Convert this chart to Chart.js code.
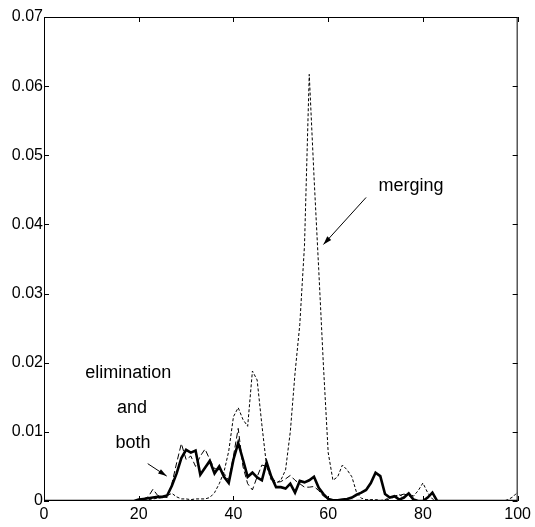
<!DOCTYPE html>
<html>
<head>
<meta charset="utf-8">
<script src="https://cdn.jsdelivr.net/npm/chart.js@4.4.1/dist/chart.umd.min.js"></script>
<style>
  html, body { margin: 0; padding: 0; background: #fff; }
  #wrap { width: 535px; height: 527px; }
</style>
</head>
<body>
<div id="wrap"><canvas id="chart"></canvas></div>
<script>
  // values sampled at x = 0, 1, 2, ... 100
  var bothValues = [
    0, 0, 0, 0, 0, 0, 0, 0, 0, 0,
    0, 0, 0, 0, 0, 0, 0, 0, 0, 0,
    0.0002, 0.0003, 0.0004, 0.0005, 0.0006, 0.0006, 0.0008, 0.0022, 0.0040, 0.0062,
    0.0074, 0.0070, 0.0073, 0.0038, 0.0048, 0.0058, 0.0040, 0.0050, 0.0035, 0.0026,
    0.0060, 0.0084, 0.0060, 0.0035, 0.0041, 0.0034, 0.0030, 0.0056, 0.0035, 0.0020,
    0.0020, 0.0018, 0.0025, 0.0012, 0.0029, 0.0027, 0.0030, 0.0035, 0.0019, 0.0010,
    0.0003, 0.0001, 0.0001, 0.0002, 0.0003, 0.0005, 0.0009, 0.0012, 0.0016, 0.0026,
    0.0041, 0.0036, 0.0010, 0.0005, 0.0007, 0.0002, 0.0005, 0.0011, 0.0002, 0,
    0, 0.0005, 0.0012, 0, 0, 0, 0, 0, 0, 0,
    0, 0, 0, 0, 0, 0, 0, 0, 0, 0,
    0
  ];

  var eliminationValues = [
    0, 0, 0, 0, 0, 0, 0, 0, 0, 0,
    0, 0, 0, 0, 0, 0, 0, 0, 0, 0,
    0.0002, 0.0003, 0.0006, 0.0017, 0.0008, 0.0006, 0.0005, 0.0025, 0.0055, 0.0083,
    0.0060, 0.0065, 0.0050, 0.0065, 0.0075, 0.0060, 0.0047, 0.0045, 0.0040, 0.0030,
    0.0065, 0.0105, 0.0050, 0.0025, 0.0016, 0.0035, 0.0052, 0.0050, 0.0035, 0.0027,
    0.0028, 0.0032, 0.0037, 0.0030, 0.0025, 0.0020, 0.0020, 0.0021, 0.0015, 0.0007,
    0.0003, 0.0002, 0.0001, 0.0001, 0.0001, 0.0001, 0.0001, 0.0001, 0.0001, 0.0001,
    0.0001, 0.0001, 0.0001, 0.0003, 0.0006, 0.0008, 0.0010, 0.0008, 0.0003, 0,
    0, 0, 0, 0, 0, 0, 0, 0, 0, 0,
    0, 0, 0, 0, 0, 0, 0, 0, 0, 0,
    0
  ];

  var mergingValues = [
    0, 0, 0, 0, 0, 0, 0, 0, 0, 0,
    0, 0, 0, 0, 0, 0, 0, 0, 0, 0,
    0, 0, 0.0002, 0.0003, 0.0004, 0.0005, 0.0008, 0.0011, 0.0006, 0.0003,
    0.0003, 0.0002, 0.0003, 0.0003, 0.0003, 0.0005, 0.0012, 0.0025, 0.0042, 0.0072,
    0.0122, 0.0135, 0.0118, 0.0108, 0.0188, 0.0175, 0.0110, 0.0050, 0.0030, 0.0026,
    0.0030, 0.0045, 0.0100, 0.0185, 0.0255, 0.0370, 0.0617, 0.0470, 0.0335, 0.0195,
    0.0070, 0.0030, 0.0035, 0.0052, 0.0045, 0.0035, 0.0012, 0.0004, 0.0002, 0.0002,
    0.0002, 0.0001, 0.0002, 0.0005, 0.0007, 0.0009, 0.0006, 0.0011, 0.0007, 0.0015,
    0.0026, 0.0012, 0.0003, 0, 0, 0, 0, 0, 0, 0,
    0, 0, 0, 0, 0, 0, 0, 0, 0.0002, 0.0006,
    0.0013
  ];

  var xTicks = [0, 20, 40, 60, 80, 100];
  var yTicks = [0, 0.01, 0.02, 0.03, 0.04, 0.05, 0.06, 0.07];

  var xLabels = bothValues.map(function (v, i) { return i; });

  var FONT = '"Liberation Sans", Arial, Helvetica, sans-serif';

  // text labels and arrows, placed in data coordinates
  var notes = [
    { text: 'merging', x: 77.5, y: 0.0455 },
    { text: 'elimination', x: 17.8, y: 0.0185 },
    { text: 'and', x: 18.6, y: 0.0135 },
    { text: 'both', x: 18.8, y: 0.0084 }
  ];
  var arrows = [
    { from: [68, 0.0439], to: [59, 0.0371] },
    { from: [21.9, 0.0054], to: [25.9, 0.0036] }
  ];

  var framePlugin = {
    id: 'frame',
    afterDraw: function (chart) {
      var c = chart.ctx, a = chart.chartArea;
      var xs = chart.scales.x, ys = chart.scales.y;
      var len = 5;
      c.save();
      c.strokeStyle = '#000';
      c.lineWidth = 1;
      c.strokeRect(a.left + 0.5, a.top + 0.5, a.right - a.left - 1, a.bottom - a.top - 1);
      c.beginPath();
      xTicks.forEach(function (v) {
        var px = Math.round(xs.getPixelForValue(v)) + 0.5;
        c.moveTo(px, a.bottom); c.lineTo(px, a.bottom - len);
        c.moveTo(px, a.top); c.lineTo(px, a.top + len);
      });
      yTicks.forEach(function (v) {
        var py = Math.round(ys.getPixelForValue(v)) + 0.5;
        c.moveTo(a.left, py); c.lineTo(a.left + len, py);
        c.moveTo(a.right, py); c.lineTo(a.right - len, py);
      });
      c.stroke();

      // annotations
      c.fillStyle = '#000';
      c.font = '18px ' + FONT;
      c.textAlign = 'center';
      c.textBaseline = 'middle';
      notes.forEach(function (n) {
        c.fillText(n.text, xs.getPixelForValue(n.x), ys.getPixelForValue(n.y));
      });
      arrows.forEach(function (ar) {
        var x1 = xs.getPixelForValue(ar.from[0]), y1 = ys.getPixelForValue(ar.from[1]);
        var x2 = xs.getPixelForValue(ar.to[0]), y2 = ys.getPixelForValue(ar.to[1]);
        var ang = Math.atan2(y2 - y1, x2 - x1);
        c.beginPath();
        c.moveTo(x1, y1);
        c.lineTo(x2, y2);
        c.stroke();
        c.beginPath();
        c.moveTo(x2, y2);
        c.lineTo(x2 - 9 * Math.cos(ang - 0.3), y2 - 9 * Math.sin(ang - 0.3));
        c.lineTo(x2 - 9 * Math.cos(ang + 0.3), y2 - 9 * Math.sin(ang + 0.3));
        c.closePath();
        c.fill();
      });
      c.restore();
    }
  };

  new Chart(document.getElementById('chart'), {
    type: 'line',
    data: {
      labels: xLabels,
      datasets: [
        {
          label: 'both',
          data: bothValues,
          borderColor: '#000',
          borderWidth: 2.6,
          pointRadius: 0,
          tension: 0,
          fill: false
        },
        {
          label: 'elimination',
          data: eliminationValues,
          borderColor: '#000',
          borderWidth: 1,
          borderDash: [6, 3],
          pointRadius: 0,
          tension: 0,
          fill: false
        },
        {
          label: 'merging',
          data: mergingValues,
          borderColor: '#000',
          borderWidth: 1,
          borderDash: [3, 2],
          pointRadius: 0,
          tension: 0,
          fill: false
        }
      ]
    },
    options: {
      responsive: true,
      maintainAspectRatio: false,
      animation: false,
      layout: { padding: { left: 0, right: 16, top: 17, bottom: 0 } },
      plugins: {
        legend: { display: false },
        tooltip: { enabled: false }
      },
      scales: {
        x: {
          type: 'linear',
          min: 0,
          max: 100,
          afterFit: function (scale) { scale.height = 26; },
          afterBuildTicks: function (scale) {
            scale.ticks = xTicks.map(function (v) { return { value: v }; });
          },
          grid: { display: false, drawTicks: false },
          border: { display: false },
          ticks: {
            color: '#000',
            padding: 4,
            maxRotation: 0,
            font: { family: FONT, size: 16 }
          }
        },
        y: {
          type: 'linear',
          min: 0,
          max: 0.07,
          afterFit: function (scale) { scale.width = 44; },
          afterBuildTicks: function (scale) {
            scale.ticks = yTicks.map(function (v) { return { value: v }; });
          },
          grid: { display: false, drawTicks: false },
          border: { display: false },
          ticks: {
            color: '#000',
            padding: 1,
            font: { family: FONT, size: 16 },
            callback: function (v) { return v === 0 ? '0' : v.toFixed(2); }
          }
        }
      }
    },
    plugins: [framePlugin]
  });
</script>
</body>
</html>
